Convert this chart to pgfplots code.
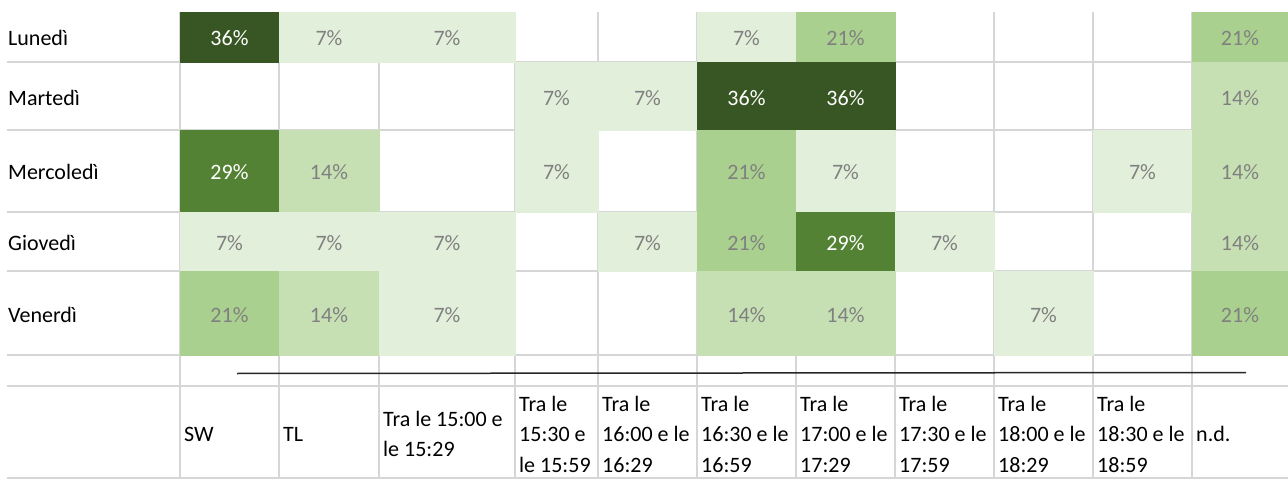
\documentclass[border=0pt]{standalone}
\usepackage{fontspec}
\setmainfont{Carlito}
\usepackage{pgfplots}
\pgfplotsset{compat=1.18}
\definecolor{gridc}{RGB}{214,214,214}
\definecolor{lblgray}{RGB}{128,128,128}
\newcommand\cellfont{\fontsize{22}{30.5}\selectfont}

\begin{document}
\begin{tikzpicture}
\begin{axis}[
  scale only axis, width=1288pt, height=480pt,
  xmin=0, xmax=1288, ymin=0, ymax=480,
  axis line style={draw=none}, tick style={draw=none}, major tick length=0pt,
  /pgf/number format/assume math mode=true,
  xtick={184,283,383,519,602,701,800,899,998,1097,1196},
  xticklabels={SW,TL,{Tra le 15:00 e\\le 15:29},{Tra le\\15:30 e\\le 15:59},
    {Tra le\\16:00 e le\\16:29},{Tra le\\16:30 e le\\16:59},{Tra le\\17:00 e le\\17:29},
    {Tra le\\17:30 e le\\17:59},{Tra le\\18:00 e le\\18:29},{Tra le\\18:30 e le\\18:59},n.d.},
  xticklabel style={anchor=west, inner sep=0pt, yshift=46pt, align=left, font=\cellfont},
  ytick={165,237,308,382,442},
  yticklabels={Venerdì,Giovedì,Mercoledì,Martedì,Lunedì},
  yticklabel style={anchor=west, inner sep=0pt, xshift=8pt, font=\cellfont},
  colormap={xl}{rgb255(7pt)=(226,239,218) rgb255(14pt)=(198,224,180)
    rgb255(21pt)=(169,208,142) rgb255(29pt)=(84,130,53) rgb255(36pt)=(55,86,35)},
  point meta min=7, point meta max=36,
]
% grid of the sheet
\pgfplotsinvokeforeach{418,350,268,209,125,94,2}{
  \draw[gridc, line width=1.6pt] (axis cs:7,#1) -- (axis cs:1288,#1);}
\pgfplotsinvokeforeach{180,279,379,515,598,697,796,895,994,1093,1192}{
  \draw[gridc, line width=1.6pt] (axis cs:#1,468) -- (axis cs:#1,2);}

% coloured cells (4 corners each), meta = share in %
\addplot[patch, patch type=rectangle, shader=flat corner, point meta=explicit]
  table[row sep=\\, meta=v] {
x y v\\
180 418 36\\ 279 418 36\\ 279 468 36\\ 180 468 36\\
279 418 7\\ 379 418 7\\ 379 468 7\\ 279 468 7\\
379 418 7\\ 515 418 7\\ 515 468 7\\ 379 468 7\\
697 418 7\\ 796 418 7\\ 796 468 7\\ 697 468 7\\
796 418 21\\ 895 418 21\\ 895 468 21\\ 796 468 21\\
1192 418 21\\ 1288 418 21\\ 1288 468 21\\ 1192 468 21\\
515 350 7\\ 598 350 7\\ 598 418 7\\ 515 418 7\\
598 350 7\\ 697 350 7\\ 697 418 7\\ 598 418 7\\
697 350 36\\ 796 350 36\\ 796 418 36\\ 697 418 36\\
796 350 36\\ 895 350 36\\ 895 418 36\\ 796 418 36\\
1192 350 14\\ 1288 350 14\\ 1288 418 14\\ 1192 418 14\\
180 268 29\\ 279 268 29\\ 279 350 29\\ 180 350 29\\
279 268 14\\ 379 268 14\\ 379 350 14\\ 279 350 14\\
515 268 7\\ 598 268 7\\ 598 350 7\\ 515 350 7\\
697 268 21\\ 796 268 21\\ 796 350 21\\ 697 350 21\\
796 268 7\\ 895 268 7\\ 895 350 7\\ 796 350 7\\
1093 268 7\\ 1192 268 7\\ 1192 350 7\\ 1093 350 7\\
1192 268 14\\ 1288 268 14\\ 1288 350 14\\ 1192 350 14\\
180 209 7\\ 279 209 7\\ 279 268 7\\ 180 268 7\\
279 209 7\\ 379 209 7\\ 379 268 7\\ 279 268 7\\
379 209 7\\ 515 209 7\\ 515 268 7\\ 379 268 7\\
598 209 7\\ 697 209 7\\ 697 268 7\\ 598 268 7\\
697 209 21\\ 796 209 21\\ 796 268 21\\ 697 268 21\\
796 209 29\\ 895 209 29\\ 895 268 29\\ 796 268 29\\
895 209 7\\ 994 209 7\\ 994 268 7\\ 895 268 7\\
1192 209 14\\ 1288 209 14\\ 1288 268 14\\ 1192 268 14\\
180 125 21\\ 279 125 21\\ 279 209 21\\ 180 209 21\\
279 125 14\\ 379 125 14\\ 379 209 14\\ 279 209 14\\
379 125 7\\ 515 125 7\\ 515 209 7\\ 379 209 7\\
697 125 14\\ 796 125 14\\ 796 209 14\\ 697 209 14\\
796 125 14\\ 895 125 14\\ 895 209 14\\ 796 209 14\\
994 125 7\\ 1093 125 7\\ 1093 209 7\\ 994 209 7\\
1192 125 21\\ 1288 125 21\\ 1288 209 21\\ 1192 209 21\\
};

\draw[black!85, line width=1.5pt] (axis cs:237,106.5) -- (axis cs:1246,107.5);

% values on dark cells
\addplot[only marks, mark=none, point meta=explicit,
  nodes near coords={\pgfmathprintnumber{\pgfplotspointmeta}\%},
  nodes near coords style={anchor=center, text=white, font=\cellfont}] table[meta=v] {
x y v
229.5 442 36
746.5 382 36
845.5 382 36
229.5 308 29
845.5 237 29
};
% values on light cells
\addplot[only marks, mark=none, point meta=explicit,
  nodes near coords={\pgfmathprintnumber{\pgfplotspointmeta}\%},
  nodes near coords style={anchor=center, text=lblgray, font=\cellfont}] table[meta=v] {
x y v
329 442 7
447 442 7
746.5 442 7
845.5 442 21
1240 442 21
556.5 382 7
647.5 382 7
1240 382 14
329 308 14
556.5 308 7
746.5 308 21
845.5 308 7
1142.5 308 7
1240 308 14
229.5 237 7
329 237 7
447 237 7
647.5 237 7
746.5 237 21
944.5 237 7
1240 237 14
229.5 165 21
329 165 14
447 165 7
746.5 165 14
845.5 165 14
1043.5 165 7
1240 165 21
};
\end{axis}
\end{tikzpicture}
\end{document}
